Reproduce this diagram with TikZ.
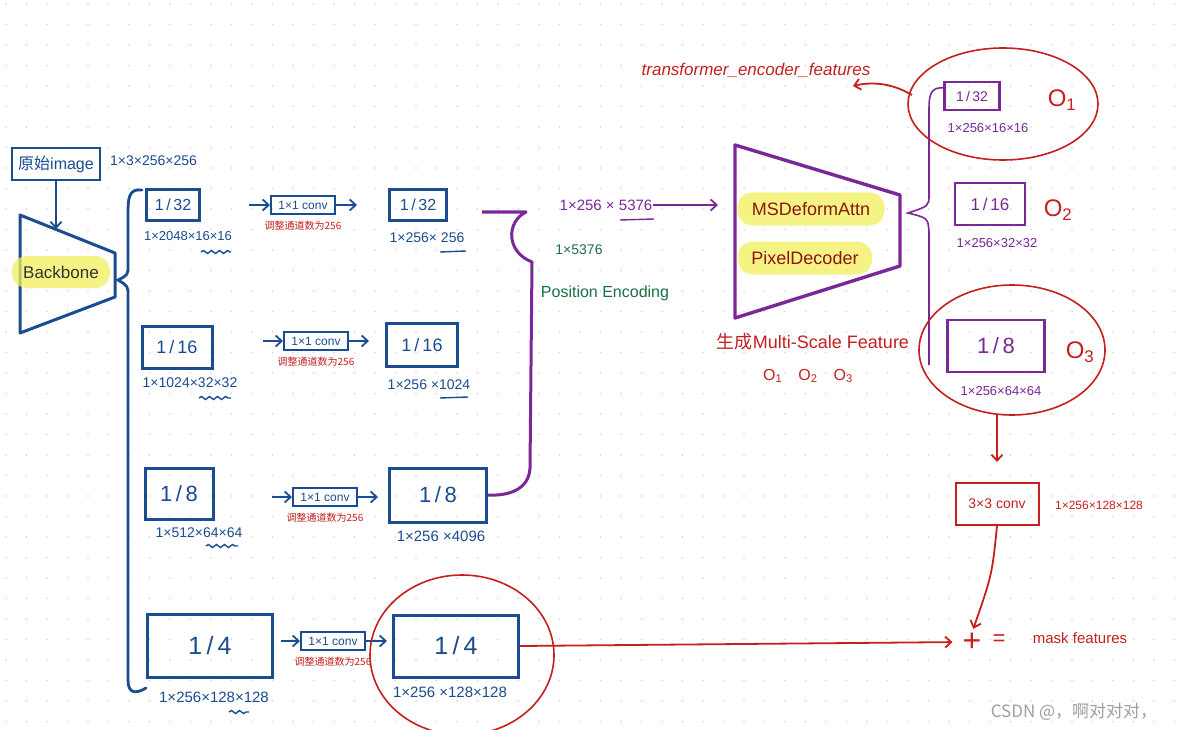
\documentclass[tikz,border=0pt]{standalone}
\usepackage{fontspec}
\setmainfont{Liberation Sans}
\newfontfamily\cjk{Noto Sans CJK SC}
\usetikzlibrary{arrows.meta,decorations.pathmorphing}
\definecolor{inkblue}{HTML}{1A4C8F}
\definecolor{inkpurple}{HTML}{7A2896}
\definecolor{inkred}{HTML}{C51F1F}
\definecolor{inkgreen}{HTML}{1A7047}
\definecolor{marker}{HTML}{F2F05A}
\definecolor{dotgray}{HTML}{D4D4D4}
\begin{document}
\begin{tikzpicture} [
                x=1pt, y=-1pt,
                fmap/.style = {draw=inkblue, line width=3pt, inner sep=0pt, text=inkblue},
                pmap/.style = {fmap, draw=inkpurple, line width=2.4pt, text=inkpurple},
                conv/.style = {draw=inkblue, line width=2pt, inner sep=0pt, text=inkblue,
                               minimum width=64pt, minimum height=18pt, font=\fontsize{12}{12}\selectfont},
                size/.style = {text=inkblue, inner sep=0pt, font=\fontsize{13}{13}\selectfont},
                note/.style = {text=inkred, inner sep=0pt, font=\cjk\fontsize{10}{10}\selectfont},
                redtext/.style = {text=inkred, inner sep=0pt},
                hilite/.style = {fill=marker, fill opacity=0.75, text opacity=1, rounded corners=15pt,
                                 inner sep=0pt, text=black!80, font=\fontsize{18}{18}\selectfont},
                flow/.style = {draw=inkblue, line width=1.8pt, -{Straight Barb[length=6pt,width=11pt]}},
                pflow/.style = {flow, draw=inkpurple},
                rflow/.style = {flow, draw=inkred},
                squiggle/.style = {draw=inkblue, line width=1.4pt, decorate,
                                   decoration={snake, amplitude=1.5pt, segment length=8pt}},
            ]
            \fill[white] (0,0) rectangle (1180,730);
            \useasboundingbox (0,0) rectangle (1180,730);
            % dotted paper
            \foreach \i in {0,...,57}
                \foreach \j in {0,...,35}
                    \fill[dotgray] (\i*20.5+6, \j*20.5+4) circle (0.9pt);
            % input image and backbone
            \node[fmap, line width=2.2pt, minimum width=88pt, minimum height=32pt,
                  font=\fontsize{16}{16}\selectfont] (img) at (56,164) {{\cjk 原始}image};
            \node[size, anchor=west, font=\fontsize{14}{14}\selectfont] (imgsize) at (110,161) {1×3×256×256};
            \coordinate (bbtop) at (56,229);
            \draw[flow] (img) -- (bbtop);
            \draw[inkblue, line width=3pt, line join=round]
                (20,215) -- (115,253) -- (115,297) -- (20,333) -- cycle;
            \node[hilite, minimum width=98pt, minimum height=32pt, font=\fontsize{17}{17}\selectfont]
                (backbone) at (61,272) {Backbone};
            \draw[inkblue, line width=2.8pt, line cap=round]
                (142,190) .. controls (128,188) and (128,200) .. (128,215) -- (128,265)
                .. controls (128,275) .. (118,280) .. controls (128,286) .. (128,296)
                -- (128,680) .. controls (128,694) and (136,694) .. (146,688);
            % feature maps before and after the 1x1 conv
            \foreach \name/\px/\py/\w/\h/\fs/\den in {
                    A1/173/205/53/30/16/32, A2/177/347/70/42/18/16,
                    A3/179/494/68/51/22/8, A4/210/646/125/63/25/4,
                    B1/418/205/57/30/16/32, B2/422/345/71/43/18/16,
                    B3/438/495/97/54/22/8, B4/456/646/125/62/25/4}
                \node[fmap, minimum width=\w pt, minimum height=\h pt,
                      font=\fontsize{\fs}{\fs}\selectfont] (\name) at (\px,\py) {1\,/\,\den};
            \foreach \i/\px/\py in {1/303/205, 2/316/341, 3/325/497, 4/333/641} {
                \node[conv] (C\i) at (\px,\py) {1×1 conv};
                \node[note] (N\i) at (\px,\py+21) {调整通道数为256};
            }
            % arrows through the convs
            \foreach \i/\sa/\sb in {1/48/31, 2/49/16, 3/57/10, 4/7/5} {
                \draw[flow, shorten <=\sa pt] (A\i.east |- C\i.west) -- (C\i.west);
                \draw[flow, shorten >=\sb pt] (C\i.east) -- (C\i.east -| B\i.west);
            }
            % shapes of the maps
            \foreach \name/\px/\py/\fs/\txt in {
                    a1/188/236/13/1×2048×16×16, a2/190/383/14/1×1024×32×32,
                    a3/199/533/14/1×512×64×64, a4/214/697/15/1×256×128×128,
                    b1/427/238/14/1×256× 256, b2/429/385/14/1×256 ×1024,
                    b3/441/536/15/1×256 ×4096, b4/450/692/15/1×256 ×128×128}
                \node[size, font=\fontsize{\fs}{\fs}\selectfont] (\name) at (\px,\py) {\txt};
            \draw[squiggle] (201,252) -- (231,252);
            \draw[squiggle] (199,398) -- (231,398);
            \draw[squiggle] (206,546) -- (238,546);
            \draw[squiggle] (229,712) -- (249,712);
            \draw[inkblue, line width=1.4pt] (440,252) -- (466,251);
            \draw[inkblue, line width=1.4pt] (440,398) -- (468,397);
            % flatten and concat into the pixel decoder
            \coordinate (pe) at (482,212);
            \draw[inkpurple, line width=3pt, line join=round]
                (pe) -- (526,212) .. controls (506,222) and (506,252) .. (532,262)
                -- (530,468) .. controls (529,490) and (508,496) .. (B3.east);
            \node[text=inkpurple, inner sep=0pt, font=\fontsize{15}{15}\selectfont] (seq) at (606,205) {1×256 × 5376};
            \draw[inkpurple, line width=1.4pt] (620,220) -- (654,219);
            \coordinate (decin) at (718,205);
            \draw[pflow] (seq.east) -- (decin);
            \node[text=inkgreen, inner sep=0pt, font=\fontsize{14}{14}\selectfont] (pos) at (579,250) {1×5376};
            \node[text=inkgreen, inner sep=0pt, font=\fontsize{16}{16}\selectfont] (posenc) at (605,293) {Position Encoding};
            \draw[inkpurple, line width=3.4pt, line join=round]
                (735,145) -- (900,195) -- (900,266) -- (735,318) -- cycle;
            \node[hilite, minimum width=147pt, minimum height=33pt, text=inkred!70!black] (msda) at (811,209) {MSDeformAttn};
            \node[hilite, minimum width=134pt, minimum height=33pt, text=inkred!70!black] (pxd) at (805,258) {PixelDecoder};
            \node[redtext, font=\fontsize{18}{18}\selectfont] (msf) at (813,342) {{\cjk 生成}Multi-Scale Feature};
            \node[redtext, font=\fontsize{16}{16}\selectfont] (olist) at (808,376)
                {O\textsubscript{1}\quad O\textsubscript{2}\quad O\textsubscript{3}};
            % multi-scale outputs
            \draw[inkpurple, line width=1.6pt]
                (946,88) .. controls (930,86) and (929,95) .. (929,110) -- (929,195)
                .. controls (929,206) .. (908,213) .. controls (928,218) .. (929,232) -- (929,365);
            \foreach \name/\px/\py/\w/\h/\fs/\den in {
                    O1/972/96/55/28/14/32, O2/990/204/70/42/17/16, O3/996/346/97/52/22/8}
                \node[pmap, minimum width=\w pt, minimum height=\h pt,
                      font=\fontsize{\fs}{\fs}\selectfont] (\name) at (\px,\py) {1\,/\,\den};
            \foreach \name/\px/\py/\txt in {
                    o1/988/128/1×256×16×16, o2/997/243/1×256×32×32, o3/1001/391/1×256×64×64}
                \node[size, text=inkpurple] (\name) at (\px,\py) {\txt};
            \foreach \name/\px/\py/\k in {on1/1062/100/1, on2/1058/210/2, on3/1080/352/3}
                \node[redtext, font=\fontsize{24}{24}\selectfont] (\name) at (\px,\py) {O\textsubscript{\k}};
            % red notes
            \draw[inkred, line width=1.6pt] (1003,104) ellipse [x radius=95pt, y radius=56pt];
            \draw[inkred, line width=1.6pt] (1012,350) ellipse [x radius=93pt, y radius=65pt];
            \draw[inkred, line width=1.6pt] (462,655) ellipse [x radius=92pt, y radius=80pt];
            \node[redtext, font=\itshape\fontsize{17}{17}\selectfont] (tef) at (756,70) {transformer\_encoder\_features};
            \coordinate (o1tail) at (912,95);
            \coordinate (tefhead) at (853,86);
            \draw[rflow] (o1tail) .. controls (890,82) and (870,82) .. (tefhead);
            \node[draw=inkred, line width=2pt, minimum width=83pt, minimum height=42pt, inner sep=0pt,
                  text=inkred, font=\fontsize{14}{14}\selectfont] (conv3) at (997,504) {3×3 conv};
            \node[redtext, font=\fontsize{12}{12}\selectfont] (c3size) at (1099,505) {1×256×128×128};
            \coordinate (o3s) at (997,414);
            \draw[rflow, shorten >=20pt] (o3s) -- (conv3.north);
            \node[redtext, font=\fontsize{32}{32}\selectfont] (plus) at (972,642) {+};
            \node[redtext, font=\fontsize{22}{22}\selectfont] (eq) at (999,640) {=};
            \node[redtext, font=\fontsize{15}{15}\selectfont] (mf) at (1080,638) {mask features};
            \draw[rflow, shorten >=4pt] (conv3.south) .. controls (992,575) .. (plus.north);
            \draw[rflow, shorten >=10pt] (B4.east) -- (plus.west);
            % watermark
            \node[text=gray!75, inner sep=0pt, font=\cjk\fontsize{17}{17}\selectfont] (wm) at (1074,712) {CSDN @，啊对对对，};
        \end{tikzpicture}
\end{document}
